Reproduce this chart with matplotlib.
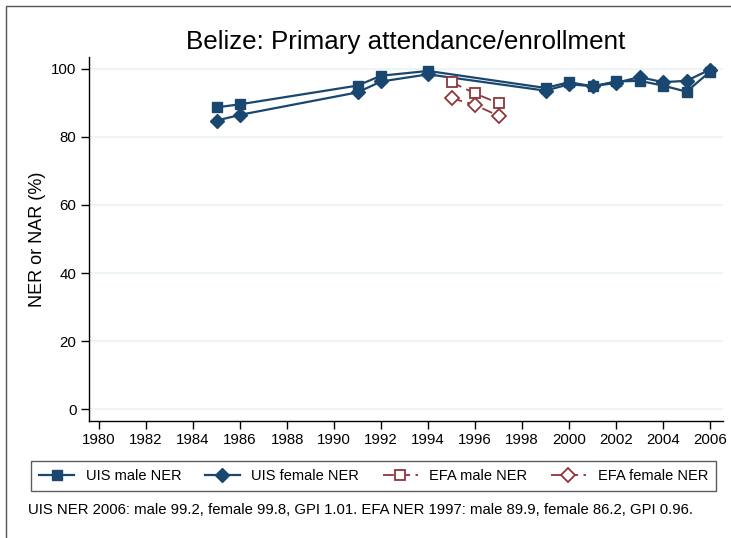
import matplotlib
matplotlib.use("Agg")
import matplotlib.pyplot as plt
from matplotlib.patches import Rectangle

plt.rcParams['font.family'] = ['Liberation Sans', 'DejaVu Sans']

uis_years = [1985, 1986, 1991, 1992, 1994, 1999, 2000, 2001, 2002, 2003, 2004, 2005, 2006]
uis_male = [88.7, 89.6, 95.1, 98.0, 99.4, 94.4, 96.1, 94.9, 96.3, 96.5, 95.1, 93.3, 99.2]
uis_female = [84.8, 86.5, 93.1, 96.3, 98.4, 93.6, 95.5, 94.9, 95.9, 97.6, 96.1, 96.5, 99.8]
efa_years = [1995, 1996, 1997]
efa_male = [96.1, 92.8, 89.9]
efa_female = [91.4, 89.4, 86.2]

xticks = list(range(1980, 2007, 2))
yticks = [0, 20, 40, 60, 80, 100]

navy = '#1a476f'
maroon = '#90353b'
grid_c = '#eaf2f3'

fig = plt.figure(figsize=(7.31, 5.38), dpi=100)
fig.patch.set_facecolor('white')
fig.add_artist(Rectangle((6/731, -0.01), 1.0, 1 - 6/538 + 0.01, transform=fig.transFigure,
                         fill=False, edgecolor='#555555', linewidth=1.0))

ax = fig.add_axes([89/731, 1 - 421/538, (722.7 - 89)/731, (421 - 57)/538])
ax.set_xlim(1979.57, 2006.54)
ax.set_ylim(-3.5, 103.5)
for y in yticks:
    ax.axhline(y, color=grid_c, lw=1.2, zorder=0)
ax.spines['top'].set_visible(False)
ax.spines['right'].set_visible(False)
ax.spines['left'].set_linewidth(1.0)
ax.spines['bottom'].set_linewidth(1.0)
ax.set_xticks(xticks)
ax.set_yticks(yticks)
ax.tick_params(axis='both', direction='out', length=6, width=1.0, labelsize=10.8, pad=3)

ax.plot(uis_years, uis_male, color=navy, lw=1.6, marker='s', ms=7, mfc=navy, mec=navy,
        label='UIS male NER', zorder=3)
ax.plot(uis_years, uis_female, color=navy, lw=1.6, marker='D', ms=7.4, mfc=navy, mec=navy,
        label='UIS female NER', zorder=3)
ax.plot(efa_years, efa_male, color=maroon, lw=1.3, ls=(0, (6, 3)), marker='s', ms=6.6,
        mfc='white', mec=maroon, mew=1.3, label='EFA male NER', zorder=3)
ax.plot(efa_years, efa_female, color=maroon, lw=1.3, ls=(0, (6, 3)), marker='D', ms=6.8,
        mfc='white', mec=maroon, mew=1.3, label='EFA female NER', zorder=3)

ax.set_ylabel('NER or NAR (%)', fontsize=13, va='center')
ax.yaxis.set_label_coords((37 - 89) / 633.7, 0.5)
fig.text(405.8/731, 1 - 48.5/538, 'Belize: Primary attendance/enrollment', ha='center',
         va='baseline', fontsize=18.7)

handles, labels = ax.get_legend_handles_labels()
leg = fig.legend(handles, labels, loc='center', ncol=4, mode='expand',
                 bbox_to_anchor=(31/731, 1 - 493/538, 685/731, 34/538),
                 fontsize=10.5, handlelength=2.4, frameon=True, fancybox=False,
                 borderaxespad=0, borderpad=0.55, columnspacing=1.2)
leg.get_frame().set_edgecolor('#333333')
leg.get_frame().set_linewidth(1.0)

fig.text(28/731, 1 - 510/538,
         'UIS NER 2006: male 99.2, female 99.8, GPI 1.01. EFA NER 1997: male 89.9, female 86.2, GPI 0.96.',
         ha='left', va='center', fontsize=10.7)

fig.savefig('out.png', dpi=100, facecolor='white')
